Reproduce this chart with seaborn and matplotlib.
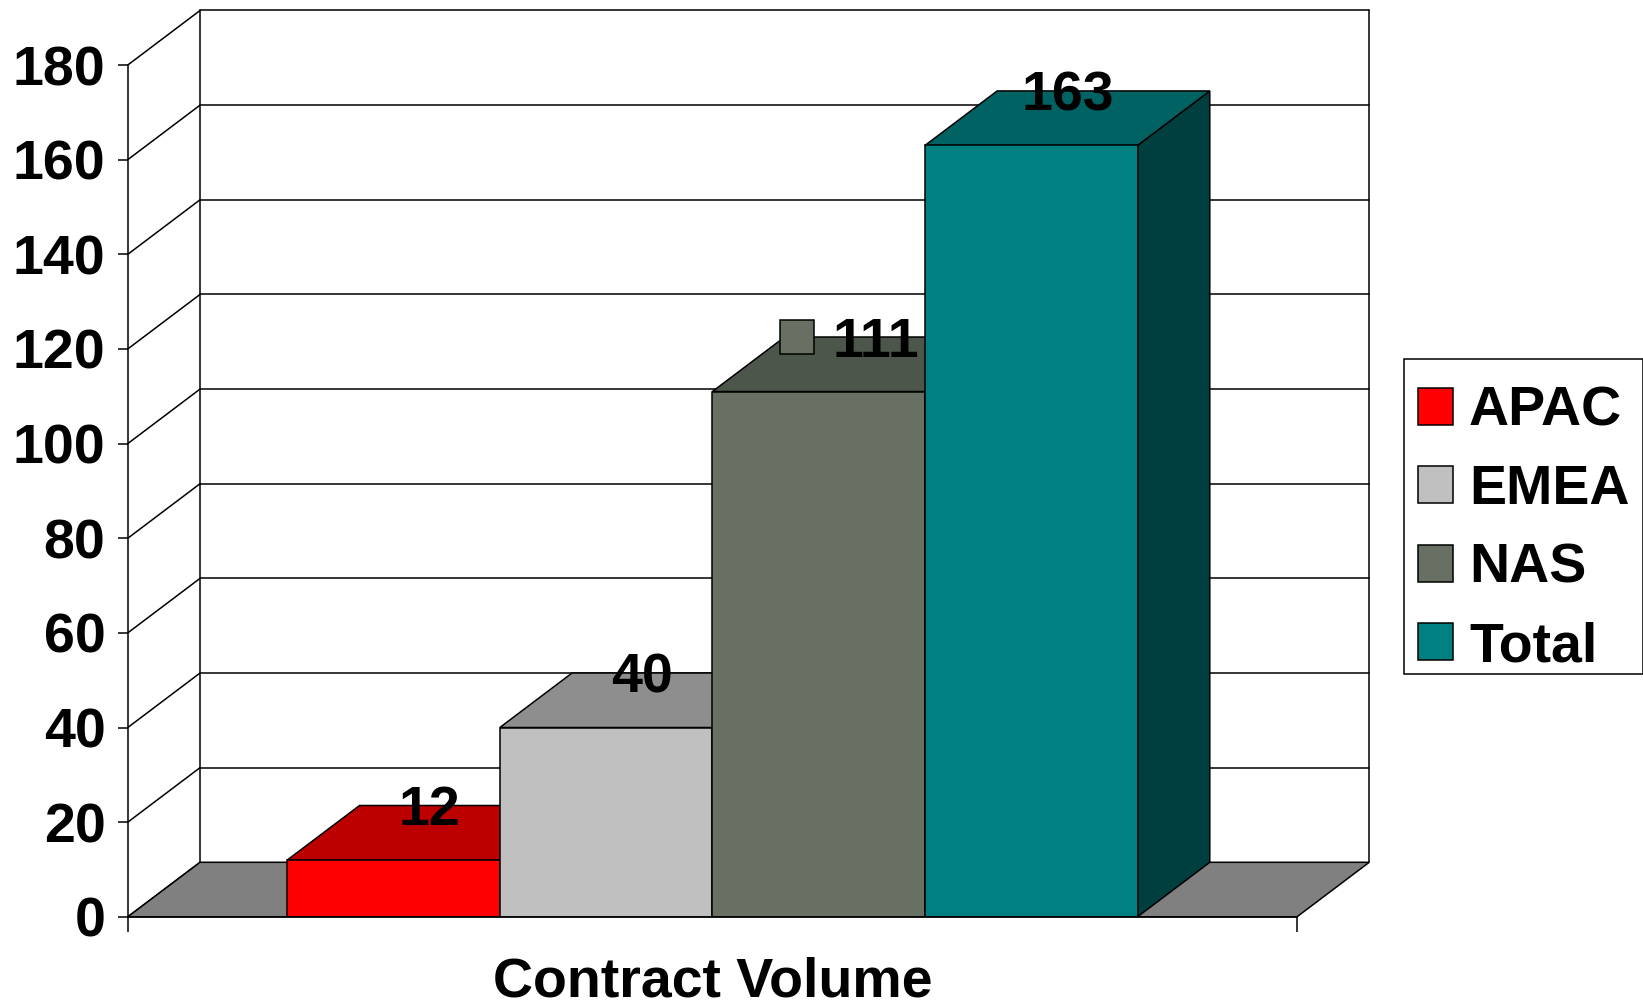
import matplotlib
matplotlib.use("Agg")
import matplotlib.pyplot as plt
import matplotlib.transforms as mtransforms
from matplotlib.patches import Polygon, Patch, Rectangle
import seaborn as sns
import pandas as pd

# ---- data ----
category = "Contract Volume"
regions = ["APAC", "EMEA", "NAS", "Total"]
values = [12, 40, 111, 163]
show_key = [False, False, True, False]
yticks = [0, 20, 40, 60, 80, 100, 120, 140, 160, 180]

# ---- style ----
front_colors = ["#FF0000", "#C0C0C0", "#677062", "#008080"]
top_colors = ["#BC0000", "#8E8E8E", "#4D564A", "#006262"]
side_colors = ["#A00000", "#7A7A7A", "#3C4239", "#003F40"]
floor_color = "#808080"
FS = 40
DX = 0.0618   # depth offset in x data units
DY = 11.52    # depth offset in y data units

sns.set_theme(style="white")
plt.rcParams["font.family"] = ["Liberation Sans", "DejaVu Sans"]
plt.rcParams["font.weight"] = "bold"
plt.rcParams["text.color"] = "black"
plt.rcParams["axes.labelcolor"] = "black"
plt.rcParams["xtick.color"] = "black"
plt.rcParams["ytick.color"] = "black"

fig = plt.figure(figsize=(16.43, 10.06), dpi=100)
ax = fig.add_axes([127.8 / 1643, 89.2 / 1006, 1169.2 / 1643, 851.8 / 1006])
ax.patch.set_visible(False)

df = pd.DataFrame({"metric": [category] * len(regions), "region": regions, "value": values})
sns.barplot(data=df, x="metric", y="value", hue="region", hue_order=regions,
            palette=front_colors, width=0.7272, saturation=1, edgecolor="black",
            linewidth=1.1, ax=ax, legend=False)
ax.set_xlim(-0.5, 0.5)
ax.set_ylim(0, 180)

lw = 1.1
# back wall and left side wall lines
x0, x1 = ax.get_xlim()
for v in yticks[1:]:
    ax.plot([x0 + DX, x1 + DX], [v + DY, v + DY], color="black", lw=lw, zorder=0.5, clip_on=False)
for v in yticks:
    ax.plot([x0, x0 + DX], [v, v + DY], color="black", lw=lw, zorder=0.5, clip_on=False)
ax.plot([x0 + DX, x0 + DX], [DY, yticks[-1] + DY], color="black", lw=lw, zorder=0.5, clip_on=False)
ax.plot([x1 + DX, x1 + DX], [DY, yticks[-1] + DY], color="black", lw=lw, zorder=0.5, clip_on=False)

# floor
ax.add_patch(Polygon([(x0, 0), (x1, 0), (x1 + DX, DY), (x0 + DX, DY)], closed=True,
                     facecolor=floor_color, edgecolor="black", lw=lw, zorder=1, clip_on=False))

# 3D faces for each bar
for i, cont in enumerate(ax.containers):
    for p in cont.patches:
        p.set_zorder(3)
        x = p.get_x(); w = p.get_width(); h = p.get_height()
        ax.add_patch(Polygon([(x + w, 0), (x + w + DX, DY), (x + w + DX, h + DY), (x + w, h)],
                             closed=True, facecolor=side_colors[i], edgecolor="black",
                             lw=lw, zorder=2, clip_on=False))
        ax.add_patch(Polygon([(x, h), (x + w, h), (x + w + DX, h + DY), (x + DX, h + DY)],
                             closed=True, facecolor=top_colors[i], edgecolor="black",
                             lw=lw, zorder=2, clip_on=False))
        cx = x + w / 2 + DX / 2
        ty = h + DY
        if show_key[i]:
            ax.annotate(f"{values[i]:g}", xy=(cx, ty), xytext=(21 * 0.72, -20 * 0.72),
                        textcoords="offset points", ha="center", va="baseline",
                        fontsize=FS, fontweight="bold", color="black", zorder=6,
                        annotation_clip=False)
            tr = mtransforms.offset_copy(ax.transData, fig=fig, x=-58 * 0.72, y=0, units="points")
            ax.plot([cx], [ty], marker="s", ms=24.5, mfc=front_colors[i], mec="black",
                    mew=1.1, transform=tr, clip_on=False, zorder=6)
        else:
            ax.annotate(f"{values[i]:g}", xy=(cx, ty), xytext=(0, -20 * 0.72),
                        textcoords="offset points", ha="center", va="baseline",
                        fontsize=FS, fontweight="bold", color="black", zorder=6,
                        annotation_clip=False)

# axes styling
for s in ["top", "right"]:
    ax.spines[s].set_visible(False)
for s in ["left", "bottom"]:
    ax.spines[s].set_color("black")
    ax.spines[s].set_linewidth(lw)
    ax.spines[s].set_zorder(4)
ax.set_yticks(yticks)
ax.set_yticklabels([str(t) for t in yticks], fontsize=FS, fontweight="bold", color="black")
ax.tick_params(axis="y", left=True, direction="out", length=7.5, width=lw, color="black", pad=8.6)
ax.set_xticks([x0, x1])
ax.set_xticklabels(["", ""])
ax.tick_params(axis="x", bottom=True, direction="out", length=10.8, width=lw, color="black")
ax.set_ylabel("")
ax.set_xlabel(category, fontsize=FS, fontweight="bold", va="top", color="black")
ax.xaxis.set_label_coords(0.5, -0.047)

# legend (entries sit a little low inside the frame, as in the reference)
SHIFT = 13  # px
handles = [Patch(facecolor=c, edgecolor="black", lw=lw) for c in front_colors]
leg = ax.legend(handles, regions, loc="upper left",
                bbox_to_anchor=(1404 / 1643, (1006 - 359 - SHIFT) / 1006),
                bbox_transform=fig.transFigure,
                frameon=False,
                borderpad=0.25, labelspacing=0.475, handlelength=0.64, handleheight=0.64,
                handletextpad=0.28, borderaxespad=0, prop={"size": FS, "weight": "bold"})
for t in leg.get_texts():
    t.set_color("black")
fig.canvas.draw()
bb = leg.get_window_extent()
fig.add_artist(Rectangle((bb.x0, bb.y0 + SHIFT), bb.width, bb.height, transform=None,
                         facecolor="none", edgecolor="black", lw=lw, zorder=10))

fig.savefig("out.png", dpi=100, facecolor="white")
